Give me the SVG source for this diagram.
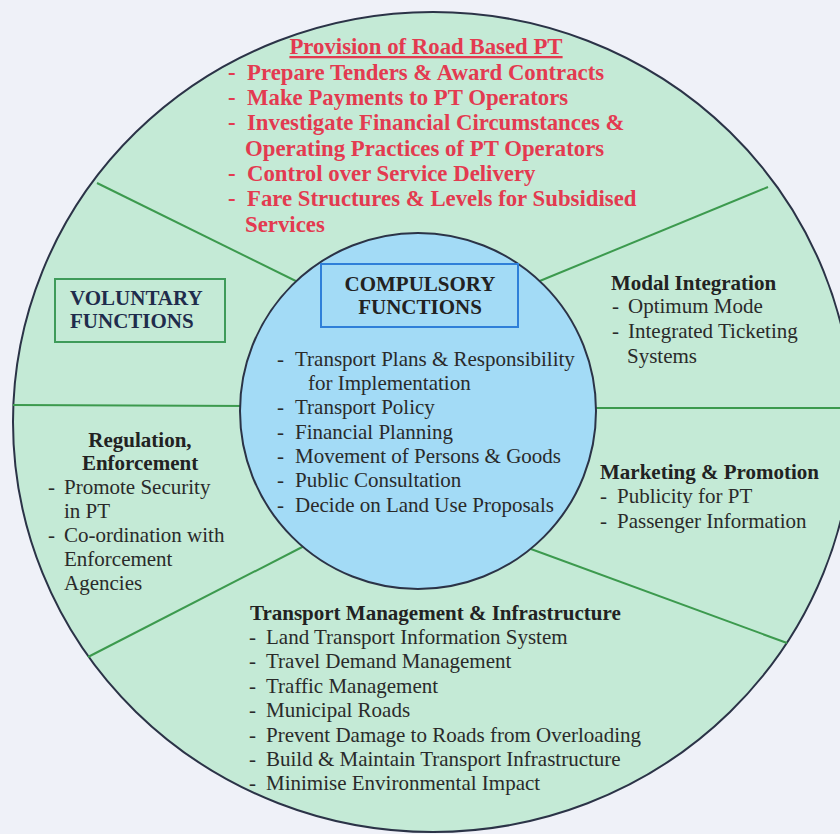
<svg xmlns="http://www.w3.org/2000/svg" width="840" height="834" viewBox="0 0 840 834">
<style>
  text { font-family: "Liberation Serif", "Times New Roman", serif; }
  .red { fill: #e33a50; font-size: 22.8px; font-weight: bold; }
  .body { fill: #2a2a2a; font-size: 21px; }
  .head { fill: #222222; font-size: 21px; font-weight: bold; }
  .navy { fill: #1f2c4c; font-size: 21px; font-weight: bold; }
  .div { stroke: #3c9a4e; stroke-width: 2; fill: none; }
</style>
<rect x="0" y="0" width="840" height="834" fill="#eff1f8"/>
<g id="outer-ring">
  <ellipse cx="433" cy="422" rx="420" ry="410" fill="#c4ead6" stroke="#2b3347" stroke-width="2"/>
</g>
<g id="connectors">
  <line class="div" x1="97" y1="183" x2="310" y2="288"/>
  <line class="div" x1="768" y1="187" x2="530" y2="285"/>
  <line class="div" x1="13" y1="405" x2="250" y2="406"/>
  <line class="div" x1="590" y1="408" x2="845" y2="408"/>
  <line class="div" x1="88" y1="657" x2="310" y2="543"/>
  <line class="div" x1="787" y1="643" x2="520" y2="545"/>
</g>
<g id="compulsory">
  <circle cx="418" cy="411" r="178" fill="#a3dbf6" stroke="#2b3347" stroke-width="2"/>
  <rect x="321" y="264" width="197" height="63" fill="none" stroke="#2f7fd9" stroke-width="2"/>
  <text class="head" x="420" y="291" text-anchor="middle">COMPULSORY</text>
  <text class="head" x="420" y="314" text-anchor="middle">FUNCTIONS</text>
  <text class="body" x="277" y="366">-</text><text class="body" x="295" y="366">Transport Plans &amp; Responsibility</text>
  <text class="body" x="308" y="390">for Implementation</text>
  <text class="body" x="277" y="414">-</text><text class="body" x="295" y="414">Transport Policy</text>
  <text class="body" x="277" y="439">-</text><text class="body" x="295" y="439">Financial Planning</text>
  <text class="body" x="277" y="463">-</text><text class="body" x="295" y="463">Movement of Persons &amp; Goods</text>
  <text class="body" x="277" y="487">-</text><text class="body" x="295" y="487">Public Consultation</text>
  <text class="body" x="277" y="512">-</text><text class="body" x="295" y="512">Decide on Land Use Proposals</text>
</g>
<g id="provision">
  <text class="red" x="426" y="54" text-anchor="middle" text-decoration="underline">Provision of Road Based PT</text>
  <text class="red" x="228" y="80">-</text><text class="red" x="247" y="80">Prepare Tenders &amp; Award Contracts</text>
  <text class="red" x="228" y="105">-</text><text class="red" x="247" y="105">Make Payments to PT Operators</text>
  <text class="red" x="228" y="130">-</text><text class="red" x="247" y="130">Investigate Financial Circumstances &amp;</text>
  <text class="red" x="245" y="156">Operating Practices of PT Operators</text>
  <text class="red" x="228" y="181">-</text><text class="red" x="247" y="181">Control over Service Delivery</text>
  <text class="red" x="228" y="206">-</text><text class="red" x="247" y="206">Fare Structures &amp; Levels for Subsidised</text>
  <text class="red" x="245" y="232">Services</text>
</g>
<g id="voluntary">
  <rect x="55" y="279" width="170" height="63" fill="none" stroke="#3e9b5a" stroke-width="2"/>
  <text class="navy" x="70" y="305">VOLUNTARY</text>
  <text class="navy" x="70" y="328">FUNCTIONS</text>
</g>
<g id="modal-integration">
  <text class="head" x="611" y="290">Modal Integration</text>
  <text class="body" x="612" y="313">-</text><text class="body" x="628" y="313">Optimum Mode</text>
  <text class="body" x="612" y="338">-</text><text class="body" x="628" y="338">Integrated Ticketing</text>
  <text class="body" x="627" y="363">Systems</text>
</g>
<g id="marketing-promotion">
  <text class="head" x="600" y="479">Marketing &amp; Promotion</text>
  <text class="body" x="600" y="503">-</text><text class="body" x="617" y="503">Publicity for PT</text>
  <text class="body" x="600" y="528">-</text><text class="body" x="617" y="528">Passenger Information</text>
</g>
<g id="regulation-enforcement">
  <text class="head" x="140" y="447" text-anchor="middle">Regulation,</text>
  <text class="head" x="140" y="470" text-anchor="middle">Enforcement</text>
  <text class="body" x="48" y="494">-</text><text class="body" x="64" y="494">Promote Security</text>
  <text class="body" x="64" y="518">in PT</text>
  <text class="body" x="48" y="542">-</text><text class="body" x="64" y="542">Co-ordination with</text>
  <text class="body" x="64" y="566">Enforcement</text>
  <text class="body" x="64" y="590">Agencies</text>
</g>
<g id="transport-management">
  <text class="head" x="250" y="620">Transport Management &amp; Infrastructure</text>
  <text class="body" x="249" y="644">-</text><text class="body" x="266" y="644">Land Transport Information System</text>
  <text class="body" x="249" y="668">-</text><text class="body" x="266" y="668">Travel Demand Management</text>
  <text class="body" x="249" y="693">-</text><text class="body" x="266" y="693">Traffic Management</text>
  <text class="body" x="249" y="717">-</text><text class="body" x="266" y="717">Municipal Roads</text>
  <text class="body" x="249" y="742">-</text><text class="body" x="266" y="742">Prevent Damage to Roads from Overloading</text>
  <text class="body" x="249" y="766">-</text><text class="body" x="266" y="766">Build &amp; Maintain Transport Infrastructure</text>
  <text class="body" x="249" y="790">-</text><text class="body" x="266" y="790">Minimise Environmental Impact</text>
</g>
</svg>
